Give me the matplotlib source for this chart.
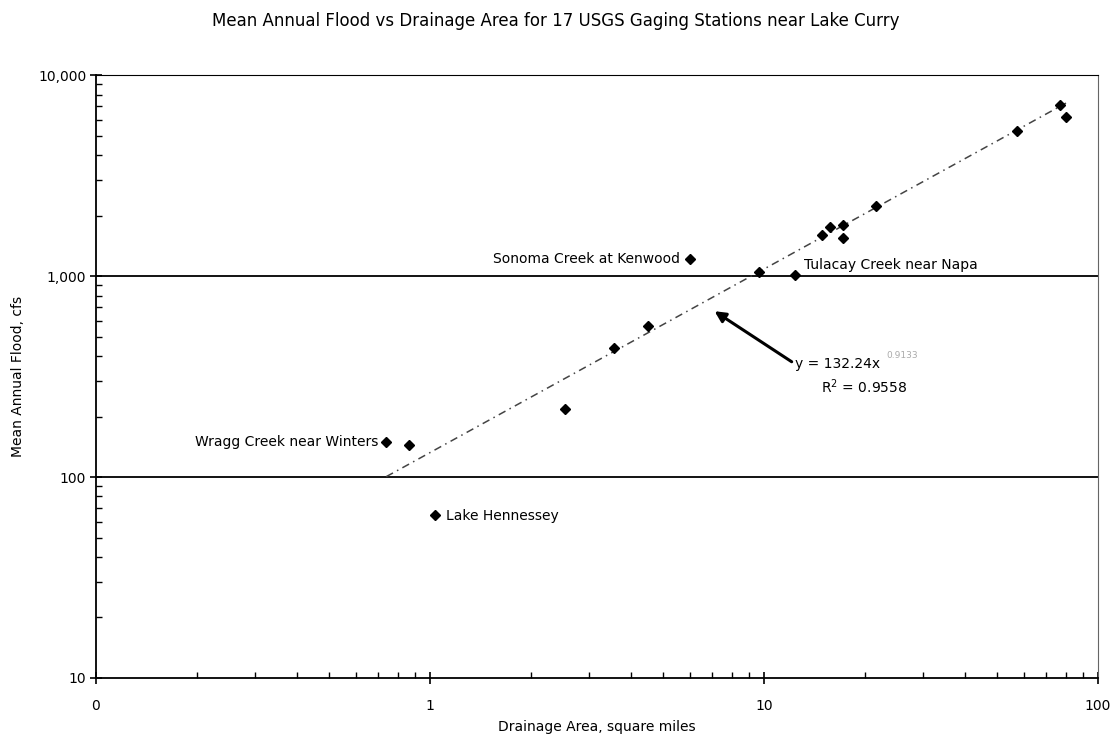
import numpy as np
import matplotlib
matplotlib.use("Agg")
import matplotlib.pyplot as plt
from matplotlib.ticker import FixedLocator, FixedFormatter, LogLocator, NullFormatter

plt.rcParams['font.family'] = ['DejaVu Sans']

# drainage area (sq mi) and mean annual flood (cfs) for the 17 stations
area = [0.74, 0.865, 1.035, 2.54, 3.56, 4.5, 6.0, 9.66, 12.4,
        14.9, 15.8, 17.2, 17.2, 21.6, 57.2, 76.9, 80.2]
flood = [149, 144, 65, 218, 438, 563, 1216, 1046, 1010,
         1600, 1755, 1795, 1546, 2230, 5260, 7100, 6180]

# power trendline shown on the chart
coef = 132.24
expo = 0.9133
r2 = 0.9558

x_ticks = [0.1, 1, 10, 100]
x_labels = ['0', '1', '10', '100']
y_ticks = [10, 100, 1000, 10000]
y_labels = ['10', '100', '1,000', '10,000']

fs = 10

fig = plt.figure(figsize=(11.12, 7.43), dpi=100)
ax = fig.add_axes([0.0863, 0.0875, 0.9011, 0.8115])
ax.set_xscale('log')
ax.set_yscale('log')
ax.set_xlim(0.1, 100)
ax.set_ylim(10, 10000)

# horizontal gridlines
for g in [100, 1000]:
    ax.axhline(g, color='black', lw=1.3, zorder=1)

# trendline
xt = np.array([min(area), max(area)])
ax.plot(xt, coef * xt ** expo, color='#444444', lw=1.1,
        linestyle=(0, (5, 3, 1, 3)), zorder=2)

ax.plot(area, flood, linestyle='none', marker='D', markersize=5,
        color='black', zorder=3)

ax.xaxis.set_major_locator(FixedLocator(x_ticks))
ax.xaxis.set_major_formatter(FixedFormatter(x_labels))
ax.yaxis.set_major_locator(FixedLocator(y_ticks))
ax.yaxis.set_major_formatter(FixedFormatter(y_labels))
ax.xaxis.set_minor_locator(LogLocator(base=10, subs=np.arange(2, 10)))
ax.yaxis.set_minor_locator(LogLocator(base=10, subs=np.arange(2, 10)))
ax.xaxis.set_minor_formatter(NullFormatter())
ax.yaxis.set_minor_formatter(NullFormatter())
ax.tick_params(which='major', direction='inout', length=8, width=1.2,
               labelsize=fs)
ax.tick_params(axis='x', which='major', pad=11)
ax.tick_params(axis='y', which='major', pad=3)
ax.tick_params(which='minor', direction='in', length=4, width=1)
for s in ax.spines.values():
    s.set_linewidth(1.3)
ax.spines['top'].set_linewidth(0.8)
ax.spines['right'].set_color('#666666')
ax.spines['right'].set_linewidth(0.8)

# station labels
ax.text(0.70, 149, 'Wragg Creek near Winters', fontsize=fs, ha='right', va='center')
ax.text(1.12, 64, 'Lake Hennessey', fontsize=fs, ha='left', va='center')
ax.text(5.6, 1216, 'Sonoma Creek at Kenwood', fontsize=fs, ha='right', va='center')
ax.text(13.2, 1135, 'Tulacay Creek near Napa', fontsize=fs, ha='left', va='center')

# trendline equation with arrow
ax.annotate('', xy=(7.0, 680), xytext=(12.3, 368),
            arrowprops=dict(arrowstyle='-|>', color='black', lw=2.2,
                            mutation_scale=16))
ax.text(12.4, 365, 'y = 132.24x', fontsize=fs, ha='left', va='center')
ax.text(23.3, 402, '%.4f' % expo, fontsize=6.5, color='#aaaaaa', ha='left', va='center')
ax.text(14.8, 282, 'R$^2$ = %.4f' % r2, fontsize=fs, ha='left', va='center')

ax.set_xlabel('Drainage Area, square miles', fontsize=fs, labelpad=5)
ax.set_ylabel('Mean Annual Flood, cfs', fontsize=fs, labelpad=9)
fig.text(0.5, 0.972, 'Mean Annual Flood vs Drainage Area for 17 USGS Gaging Stations near Lake Curry',
         fontsize=12, ha='center', va='center')

fig.savefig('out.png', dpi=100)
